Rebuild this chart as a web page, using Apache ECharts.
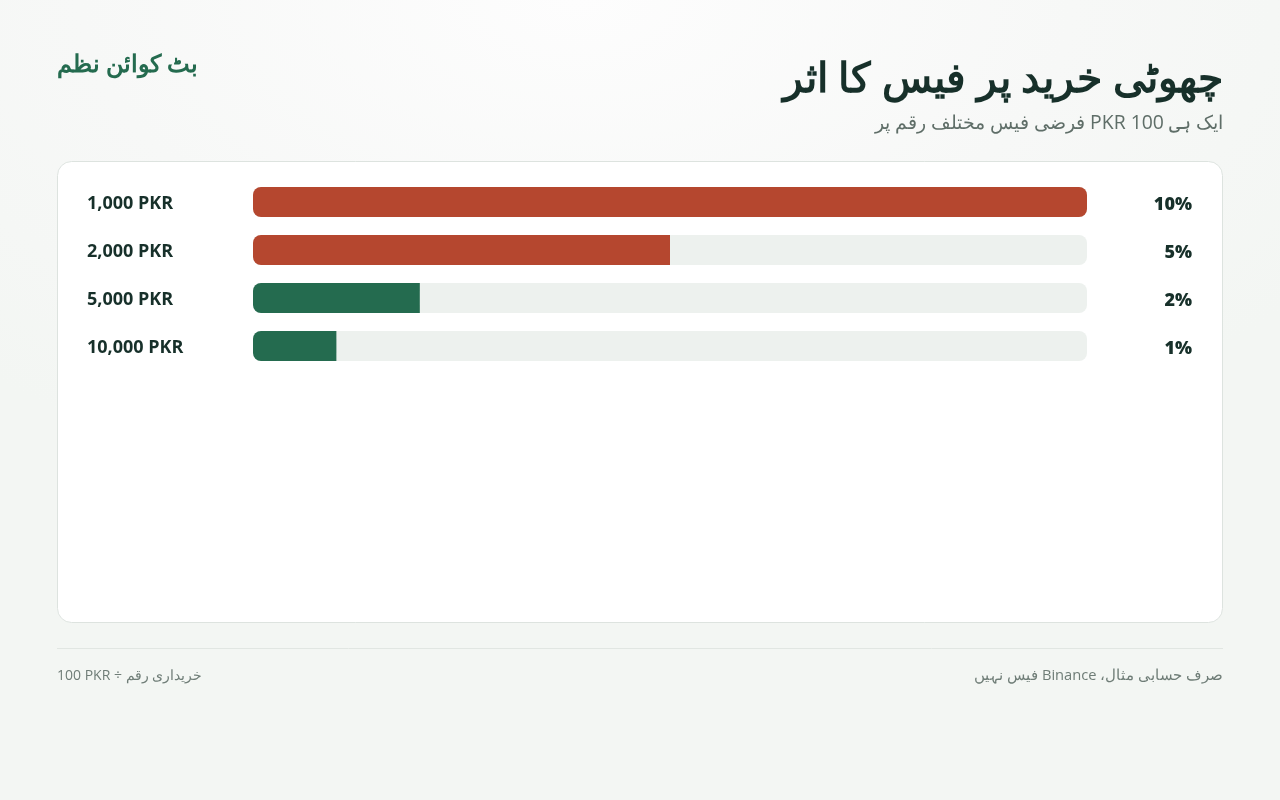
<!DOCTYPE html>
<html>
<head>
<meta charset="utf-8">
<script src="https://cdn.jsdelivr.net/npm/echarts@6/dist/echarts.min.js"></script>
<style>
  html, body { margin: 0; padding: 0; }
  body {
    width: 1280px; height: 800px; overflow: hidden;
    background: radial-gradient(ellipse 900px 500px at 45% 0%, #fdfdfd 0%, #f7f8f7 55%, #f3f6f3 100%);
  }
  #chart { width: 1280px; height: 800px; }
</style>
</head>
<body>
<div id="chart"></div>
<script>
// ---- data ----
const brand = 'بٹ کوائن نظم';
const title = 'چھوٹی خرید پر فیس کا اثر';
const subtitle = 'ایک ہی 100 PKR فرضی فیس مختلف رقم پر';
const footLeft = '100 PKR ÷ خریداری رقم';
const footRight = 'صرف حسابی مثال، Binance فیس نہیں';
const categories = ['1,000 PKR', '2,000 PKR', '5,000 PKR', '10,000 PKR'];
const feePct = [10, 5, 2, 1];
const scaleMax = 10;

// ---- styles ----
const RED = '#b5472f', GREEN = '#246b4f', TRACK = '#edf1ee';
const DARK = '#17302a', MUTED = '#5f6e68';
const FONT = '"Open Sans", "Noto Sans", sans-serif';
const rtl = s => '\u2067' + s + '\u2069';

const chart = echarts.init(document.getElementById('chart'), null, { renderer: 'canvas' });

const barData = feePct.map(v => ({
  value: v,
  itemStyle: {
    color: v >= 5 ? RED : GREEN,
    borderRadius: v >= scaleMax ? 8 : [8, 0, 0, 8]
  }
}));

chart.setOption({
  backgroundColor: 'transparent',
  animation: false,
  textStyle: { fontFamily: FONT },
  graphic: [
    { type: 'rect', z: 0, shape: { x: 57.5, y: 161.5, width: 1165, height: 461, r: 14 },
      style: { fill: '#ffffff', stroke: '#dde3df', lineWidth: 1 } },
    { type: 'line', z: 0, shape: { x1: 57, y1: 648.5, x2: 1223, y2: 648.5 },
      style: { stroke: '#e1e6e2', lineWidth: 1 } },
    { type: 'text', z: 5, x: 57, y: 65,
      style: { text: brand, fill: GREEN, font: 'bold 24px ' + FONT, textAlign: 'left', textVerticalAlign: 'middle' } },
    { type: 'text', z: 5, x: 1223, y: 80,
      style: { text: title, fill: DARK, font: 'bold 41px ' + FONT, textAlign: 'right', textVerticalAlign: 'middle' } },
    { type: 'text', z: 5, x: 1223, y: 123,
      style: { text: rtl(subtitle), fill: MUTED, font: '19.4px ' + FONT, textAlign: 'right', textVerticalAlign: 'middle' } },
    { type: 'text', z: 5, x: 57, y: 676,
      style: { text: footLeft, fill: '#6f7d77', font: '14px ' + FONT, textAlign: 'left', textVerticalAlign: 'middle' } },
    { type: 'text', z: 5, x: 1223, y: 676,
      style: { text: rtl(footRight), fill: '#6f7d77', font: '14.7px ' + FONT, textAlign: 'right', textVerticalAlign: 'middle' } }
  ],
  grid: { left: 253, right: 193, top: 178, height: 192, containLabel: false },
  xAxis: {
    type: 'value', min: 0, max: scaleMax, show: false
  },
  yAxis: [
    {
      type: 'category', data: categories, inverse: true,
      axisLine: { show: false }, axisTick: { show: false }, splitLine: { show: false },
      axisLabel: {
        margin: 166, align: 'left',
        formatter: v => '{l|' + v + '}',
        rich: { l: { color: DARK, fontSize: 18, fontWeight: 'bold', fontFamily: FONT, padding: [3, 0, 0, 0] } }
      }
    },
    {
      type: 'category', data: feePct.map(v => v + '%'), inverse: true, position: 'right',
      axisLine: { show: false }, axisTick: { show: false }, splitLine: { show: false },
      axisLabel: {
        margin: 105, align: 'right',
        formatter: v => '{v|' + v + '}',
        rich: { v: { color: DARK, fontSize: 18, fontWeight: 800, fontFamily: FONT, padding: [6, 0, 0, 0] } }
      }
    }
  ],
  series: [{
    type: 'bar',
    yAxisIndex: 0,
    data: barData,
    barWidth: 30,
    showBackground: true,
    backgroundStyle: { color: TRACK, borderRadius: 8 }
  }]
});
</script>
</body>
</html>
